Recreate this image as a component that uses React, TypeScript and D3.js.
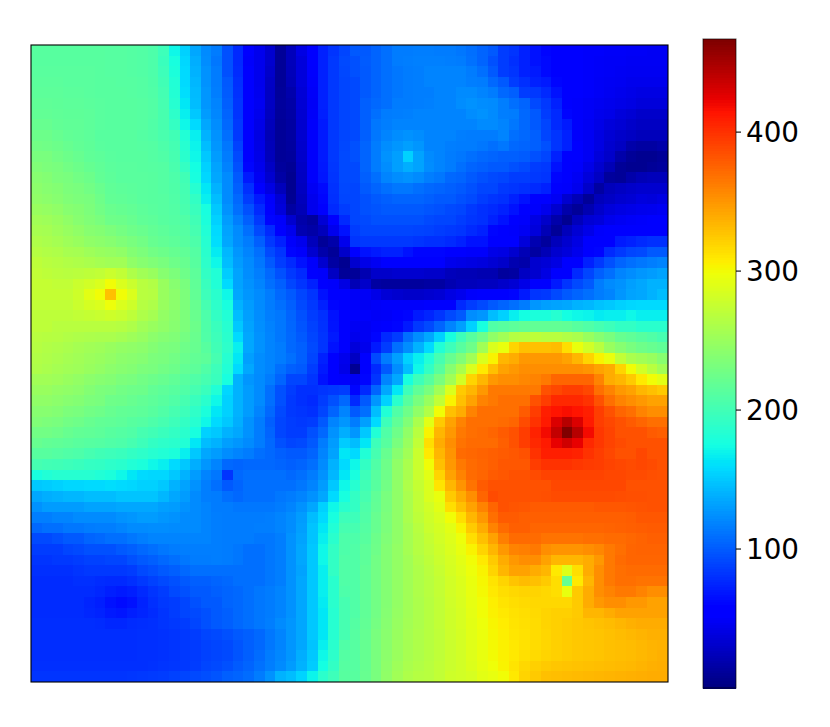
import React from "react";
import * as d3 from "d3";

const leftColumns: number[][] = [
[213,213,213,213,213,213,213,212,212,211,210,207,198,172,154,135,122,115,95,77,52,44,32,10,24,40,52,73,82,90],
[213,213,213,213,213,213,213,212,212,211,210,207,196,177,157,138,123,113,95,77,50,44,32,10,24,37,52,73,84,92],
[214,214,214,214,214,214,213,212,212,211,210,207,198,179,158,140,125,115,95,78,52,44,30,10,23,37,51,73,84,91],
[215,215,215,214,214,214,213,213,212,212,211,208,200,182,158,142,125,115,99,80,52,44,28,10,22,37,50,73,84,90],
[216,216,216,215,215,214,213,213,213,212,211,209,202,183,160,144,127,116,100,81,53,45,27,11,18,35,49,73,84,90],
[218,218,217,216,216,215,214,213,213,213,212,210,203,185,164,145,127,119,102,82,55,46,27,12,16,34,48,73,84,90],
[219,219,218,217,217,216,214,213,213,213,212,210,204,189,168,150,130,120,104,82,53,44,26,11,15,33,49,72,84,90],
[222,222,219,218,218,216,214,213,213,213,212,209,204,193,172,158,135,123,106,84,52,42,24,10,14,32,50,70,84,90],
[225,225,222,219,218,216,213,213,213,213,211,209,205,200,182,168,140,125,109,84,52,40,22,10,14,32,50,70,84,90],
[228,227,225,222,219,217,214,213,213,213,212,211,207,202,185,170,145,127,113,88,52,41,23,10,13,31,50,70,84,91],
[232,232,228,225,222,218,216,214,213,213,213,211,209,203,187,172,150,130,115,92,52,42,24,10,12,30,50,70,84,92],
[236,234,232,228,225,221,218,215,214,214,213,212,211,205,193,175,154,133,118,95,60,44,28,12,9,28,50,69,83,92],
[240,238,234,232,228,225,219,216,214,214,214,213,211,207,200,177,157,135,122,99,70,47,32,15,7,27,50,68,82,92],
[243,240,238,234,232,228,223,218,216,215,214,213,211,208,202,185,164,140,122,102,80,55,40,24,7,26,47,62,81,91],
[245,243,240,236,234,232,226,219,218,216,214,213,212,209,203,192,168,145,122,106,86,70,50,34,8,24,44,60,80,90],
[250,248,245,240,238,234,228,223,221,219,216,214,212,210,205,196,177,150,125,109,95,77,52,37,14,22,44,55,77,86],
[255,253,250,245,240,236,232,226,225,222,218,216,213,211,209,200,179,154,130,116,102,84,60,50,32,17,12,34,55,77],
[258,257,253,249,245,240,238,234,230,226,223,219,216,213,211,203,182,158,133,122,109,92,77,55,44,20,16,24,44,66],
[262,260,257,253,250,245,243,240,236,232,228,222,219,216,213,207,185,160,135,123,115,102,84,73,50,44,24,10,17,44],
[266,264,262,258,257,253,250,248,245,238,234,228,225,221,218,211,187,166,142,127,119,109,92,82,60,50,32,17,10,30],
[271,268,266,264,262,260,257,255,255,245,240,236,232,226,222,213,189,172,145,130,122,113,99,86,77,66,50,32,14,7],
[273,271,269,268,269,271,273,278,273,262,255,250,240,234,226,216,192,182,152,133,123,116,106,95,84,77,55,50,27,10],
[275,275,273,273,278,282,287,300,287,278,268,264,250,240,232,218,196,182,158,133,125,119,109,102,90,82,73,52,50,40],
[275,275,275,275,280,292,300,330,300,287,268,266,250,243,234,219,198,187,172,135,127,122,115,106,99,90,82,66,55,52],
[273,273,273,273,278,284,287,298,287,280,266,262,250,243,234,222,203,189,177,140,130,122,115,109,102,92,84,73,60,55],
[271,271,271,271,273,275,277,280,277,271,262,257,247,241,234,223,207,192,182,145,131,123,116,113,104,95,86,80,66,55],
[271,271,268,268,268,268,268,268,266,262,255,250,245,240,234,225,208,196,185,150,133,124,118,113,105,97,88,81,67,53],
[268,267,266,264,262,261,260,260,257,253,249,243,239,236,230,223,209,198,187,158,135,125,119,113,106,99,90,82,70,52],
[266,264,262,260,257,255,253,250,247,245,243,238,234,232,226,222,213,200,189,168,135,125,119,115,106,102,92,82,66,52],
[264,262,260,257,255,252,250,247,243,241,239,234,232,228,223,219,216,203,185,164,131,123,119,115,109,102,90,73,52,44],
[262,260,257,255,253,250,247,243,240,238,234,232,228,225,219,216,209,198,182,158,135,123,119,109,102,99,86,70,52,42],
[255,255,253,250,247,243,240,238,234,232,228,225,222,218,213,209,203,196,177,140,127,122,115,104,90,90,82,66,52,50],
[250,250,247,245,243,238,234,232,228,226,225,219,216,213,209,203,196,182,157,140,130,122,109,95,86,80,80,82,84,86],
[245,245,243,240,238,234,232,226,225,222,219,216,213,209,203,196,187,172,154,140,130,122,109,95,84,80,77,86,95,106],
[240,240,238,234,232,228,226,222,219,218,216,213,209,203,198,190,179,164,154,140,130,119,106,92,84,82,80,90,104,119],
[236,234,232,228,226,222,219,218,216,213,211,207,203,198,192,185,172,158,150,138,125,115,102,90,86,84,86,99,119,127],
[228,228,226,222,219,218,216,213,211,209,203,200,196,192,187,177,154,150,140,135,125,115,104,90,86,86,95,106,125,138],
[222,219,218,216,214,212,211,209,207,203,198,192,189,187,182,164,145,140,131,127,122,115,106,95,90,92,99,115,130,152],
[213,213,211,209,207,203,200,198,196,192,189,185,182,179,168,150,135,130,123,119,115,109,106,102,99,99,104,119,133,164],
[203,201,200,198,196,193,192,189,187,182,179,172,168,158,150,138,127,119,106,104,106,106,106,104,102,104,109,122,140,158],
[177,182,185,185,185,185,182,179,172,164,158,157,157,150,140,130,119,113,82,106,109,109,109,109,106,109,115,125,142,164],
[150,152,154,157,157,158,158,160,158,157,154,154,150,140,133,125,116,109,99,104,109,109,109,109,109,113,119,130,150,172],
[135,138,140,142,142,145,145,145,148,148,148,148,142,135,130,122,116,115,109,106,109,109,109,113,115,119,125,135,158,177],
[125,130,130,130,130,133,133,133,135,135,135,135,131,130,125,122,119,115,115,113,113,113,113,115,119,125,135,154,172,187],
[116,116,119,119,122,122,122,122,125,127,130,130,127,125,122,122,119,116,115,115,115,115,116,119,123,130,145,158,177,198],
[106,109,109,113,113,115,116,116,119,122,122,123,123,122,122,122,119,116,115,115,115,116,116,119,123,131,148,164,182,203],
[92,92,95,99,99,104,106,109,109,113,116,119,119,119,119,119,119,116,115,115,115,113,113,116,125,133,148,168,187,207],
[86,86,86,90,92,95,95,95,99,102,106,109,113,115,116,116,116,116,115,113,109,109,113,116,125,135,150,172,192,207],
[82,82,84,84,86,88,88,90,90,95,99,102,106,109,113,115,115,116,115,113,109,109,113,116,125,135,150,172,192,209],
[80,80,80,80,82,84,84,84,84,86,92,95,99,102,106,109,109,109,109,109,109,109,113,116,125,133,150,168,192,209],
[78,78,78,78,80,80,78,77,77,80,84,88,92,95,99,102,102,104,106,109,109,109,113,116,125,135,150,168,187,209],
[78,78,78,78,78,78,76,72,70,72,77,82,86,92,95,99,99,102,104,106,109,113,115,119,125,135,150,168,187,207],
[78,78,78,78,78,75,72,66,63,66,74,80,84,86,90,95,99,99,104,106,109,113,115,119,125,135,150,166,187,203],
[78,78,78,78,78,76,74,70,68,72,75,78,82,86,90,92,95,99,102,106,109,113,115,119,125,135,150,164,185,203],
[79,79,79,79,79,79,78,76,76,78,79,80,82,84,86,90,95,99,102,106,109,113,116,122,127,135,150,164,185,203],
[79,79,79,79,79,79,79,79,79,79,80,80,81,82,84,86,90,92,95,99,102,106,113,119,127,135,150,164,185,203],
[79,79,79,79,79,79,79,79,79,79,80,80,81,82,84,85,88,90,92,97,102,106,113,119,127,135,148,168,187,209],
[79,79,79,79,79,79,79,79,79,79,80,80,81,82,84,85,88,90,92,97,102,108,115,120,127,138,150,172,189,211],
[80,80,80,80,80,80,80,80,80,80,80,81,82,83,84,86,90,92,95,100,104,110,116,122,130,140,152,175,192,212],
[82,82,82,82,82,82,82,82,82,83,84,85,86,88,90,92,94,97,102,104,108,115,125,140,145,155,170,188,198,213],
];

const rightColumns: number[][] = [
[99,99,104,109,115,115,116,116,115,115,113,109,104,99,86,82,73,66,60,55,55,52,50,50,49,49,48,48,47,47],
[95,100,104,109,115,116,117,117,117,116,115,110,104,95,86,80,73,66,62,58,55,52,50,49,48,48,47,47,47,47],
[95,99,104,109,113,115,116,119,119,119,119,115,109,99,86,82,73,70,62,58,55,52,50,49,48,47,46,46,46,46],
[92,99,104,109,113,115,116,119,119,119,119,116,115,106,99,86,80,73,70,60,55,52,50,48,47,46,44,44,44,44],
[92,99,104,109,113,115,116,116,119,119,122,122,119,115,106,102,86,84,77,66,55,52,50,48,46,44,42,40,40,40],
[92,102,106,109,115,115,116,117,119,119,123,125,123,122,116,109,104,92,84,73,55,50,48,46,44,42,40,37,37,37],
[92,102,109,115,116,117,119,119,119,119,119,123,125,122,116,115,106,99,86,77,60,50,48,44,42,37,34,30,30,30],
[92,102,113,116,119,119,119,119,119,119,119,119,122,122,119,113,106,99,90,77,70,50,47,42,37,34,30,27,27,27],
[92,102,113,119,123,125,123,119,119,119,116,115,115,115,119,109,106,102,90,82,73,50,47,40,34,30,27,24,24,24],
[95,104,115,123,127,131,127,119,119,116,115,115,113,109,113,106,104,102,95,82,73,52,47,40,32,27,17,14,14,17],
[95,104,115,125,131,154,133,122,119,115,113,109,106,104,102,102,100,95,90,73,55,52,47,37,30,17,10,7,7,10],
[92,104,115,123,131,138,133,123,119,115,109,104,102,99,99,95,92,86,84,66,52,50,42,32,22,10,7,7,10,12],
[92,102,109,119,123,125,122,116,113,106,104,99,95,92,90,86,86,84,82,60,52,47,37,27,12,10,17,22,24,24],
[90,99,104,109,113,113,109,106,104,102,99,95,90,90,84,82,80,77,73,55,50,44,30,14,24,27,30,32,32,32],
[90,95,99,102,104,104,104,102,99,99,95,92,86,82,80,73,66,55,52,47,32,22,10,24,28,32,34,38,37,40],
[90,95,97,99,99,99,99,97,95,92,90,84,80,77,73,66,55,50,44,32,17,10,20,30,37,40,42,44,45,47],
[90,92,95,95,95,95,95,92,90,90,86,82,80,73,66,55,50,40,30,17,7,24,34,37,44,47,49,50,52,55],
[86,90,90,90,90,90,89,88,86,84,82,77,73,60,52,50,47,37,22,10,24,34,42,50,52,52,52,55,55,55],
[82,84,84,84,84,84,82,80,80,77,73,66,66,55,52,52,37,20,12,24,32,40,52,55,55,70,73,77,80,80],
[52,66,70,73,73,66,60,60,60,55,52,50,50,42,40,32,22,14,22,32,37,44,52,60,77,84,90,92,99,99],
[32,42,47,52,52,52,52,52,52,44,42,40,38,34,30,20,17,32,35,40,52,55,73,84,95,104,109,113,116,119],
[10,20,30,30,32,32,32,30,30,24,22,22,20,20,12,14,27,32,40,52,55,77,90,102,109,119,123,127,130,133],
[22,30,14,12,12,12,12,14,14,20,24,24,26,26,30,34,42,52,52,70,82,92,99,115,122,125,131,135,140,140],
[48,48,42,35,32,30,30,32,34,40,44,50,52,52,52,60,70,82,84,92,99,104,109,115,119,127,133,135,140,145],
[50,47,49,50,50,50,50,52,55,55,77,86,92,99,104,109,115,127,131,133,135,140,142,147,150,154,157,158,158,158],
[50,50,48,49,52,60,70,75,82,92,99,123,127,145,154,168,175,179,179,185,175,172,170,166,168,168,172,168,168,168],
[47,47,50,52,60,70,84,92,104,119,131,154,177,209,213,216,219,219,219,219,218,213,209,203,198,192,192,187,187,187],
[44,47,60,77,86,109,123,135,154,177,198,213,226,245,255,266,268,271,268,268,264,260,250,240,232,222,218,213,209,203],
[37,44,70,86,109,123,140,158,182,198,213,226,255,287,296,320,330,330,330,332,315,296,282,268,250,240,232,226,222,218],
[27,55,92,115,131,154,168,182,203,222,236,255,287,305,335,340,350,350,350,350,345,335,320,305,296,273,260,255,250,240],
[8,52,77,99,123,145,172,192,213,240,260,287,310,330,345,350,355,355,355,355,355,355,352,345,340,320,300,282,268,255],
[47,60,82,119,135,177,198,213,232,255,282,320,335,350,355,355,358,360,365,375,375,375,375,360,340,335,325,310,300,292],
[60,77,104,135,164,198,218,232,255,287,325,335,350,365,365,365,365,365,385,390,395,395,390,370,360,350,345,335,330,325],
[77,99,127,154,187,213,232,250,273,305,330,345,360,365,370,370,370,385,395,405,405,405,400,385,370,360,355,350,345,345],
[99,109,145,182,209,226,245,264,300,330,340,360,370,370,370,370,380,395,410,415,418,415,410,395,385,375,370,360,355,355],
[115,131,158,198,218,236,260,292,325,345,360,370,370,370,372,375,388,400,412,430,445,430,412,395,390,385,380,375,370,370],
[127,150,182,209,226,245,268,305,335,350,365,370,372,375,380,385,395,408,420,440,467,445,420,398,392,385,385,385,380,378],
[145,164,198,213,232,250,273,315,340,355,368,372,372,372,378,385,395,405,412,425,435,425,405,398,392,388,385,385,385,385],
[158,182,203,222,240,255,278,310,335,352,372,374,376,378,380,382,385,400,410,410,410,408,400,395,390,385,385,390,385,385],
[172,192,209,226,245,260,278,300,330,350,365,372,375,378,382,382,382,395,400,400,400,398,396,395,392,390,388,390,388,385],
[177,198,213,226,245,260,278,292,320,345,360,372,375,380,382,385,385,388,392,392,392,392,392,392,390,390,388,388,386,385],
[185,200,213,228,245,262,275,287,312,335,352,368,380,385,385,385,385,385,385,390,390,390,390,390,390,390,385,385,385,385],
[192,203,218,232,245,260,273,287,296,325,340,355,375,388,385,385,385,385,386,388,388,388,388,388,388,387,386,386,385,385],
[192,207,219,232,245,260,273,282,292,315,330,345,360,375,385,383,382,380,380,380,380,380,380,382,382,382,383,384,385,385],
[198,209,222,234,245,260,271,280,287,300,315,335,350,370,380,380,378,378,378,378,378,378,378,378,378,378,379,382,382,382],
[203,211,222,234,245,257,268,278,284,292,305,325,340,360,372,378,378,375,375,375,375,375,375,375,376,377,378,379,380,380],
[207,213,225,236,245,257,266,275,282,289,298,315,330,345,362,372,372,372,368,368,368,368,370,370,372,372,374,376,378,378],
[209,216,226,238,247,257,266,273,280,287,295,305,320,335,350,360,362,365,355,352,352,352,355,358,365,370,375,376,376,376],
[209,216,228,238,247,255,264,271,278,285,292,300,310,325,340,350,355,355,345,335,335,335,340,350,365,372,375,375,375,375],
[209,218,228,238,247,255,262,269,276,284,290,298,305,320,335,345,345,340,335,310,290,315,340,355,365,370,372,372,372,372],
[209,218,228,238,247,255,262,268,274,282,288,296,303,312,320,328,332,330,325,315,220,310,335,355,365,370,370,368,368,368],
[209,218,228,238,247,255,262,268,274,282,287,295,302,310,315,318,320,320,318,315,295,325,340,355,360,365,365,360,355,355],
[209,218,228,238,247,255,261,267,273,281,286,294,300,307,312,315,317,318,318,318,318,325,340,350,355,355,350,350,345,345],
[209,218,228,239,248,255,261,267,273,280,285,293,300,306,310,313,315,317,320,322,322,325,335,335,340,345,345,345,345,345],
[211,219,230,240,249,256,261,267,273,280,285,292,298,304,308,312,314,316,320,322,324,326,328,330,332,335,338,340,340,340],
[212,220,232,241,250,257,262,267,272,279,284,291,297,303,307,311,313,316,319,322,324,326,327,328,330,332,334,336,338,338],
[212,221,232,242,251,257,262,267,272,278,283,290,296,302,306,310,313,316,319,322,324,326,327,328,330,331,332,334,336,337],
[212,221,232,243,251,258,262,267,272,278,282,289,295,301,306,310,314,317,320,322,324,326,327,328,330,331,332,334,336,338],
[212,221,232,244,253,260,264,268,273,278,282,288,294,299,305,312,318,322,325,327,328,329,330,331,332,333,334,336,338,339],
[213,222,232,245,255,262,266,268,273,280,282,285,292,295,300,310,320,325,330,331,332,333,334,335,336,337,338,339,340,340],
];

const colorbarTicks = [100, 200, 300, 400];
const valueDomain = [0, 467];

const jetR = d3.scaleLinear([0, 0.35, 0.66, 0.89, 1], [0, 0, 1, 1, 0.5]).clamp(true);
const jetG = d3.scaleLinear([0, 0.125, 0.375, 0.64, 0.91, 1], [0, 0, 1, 1, 0, 0]).clamp(true);
const jetB = d3.scaleLinear([0, 0.11, 0.34, 0.65, 1], [0.5, 1, 1, 0, 0]).clamp(true);
const jet = (t: number) =>
  `rgb(${Math.round(jetR(t) * 255)},${Math.round(jetG(t) * 255)},${Math.round(jetB(t) * 255)})`;

const grid = leftColumns.map((row, i) => [...row, ...rightColumns[i]]);
const n = grid.length;
const plot = { x0: 31, x1: 668, y0: 45, y1: 682 };
const bar = { x0: 703, x1: 736, y0: 39, y1: 688 };

const xPos = d3.scaleLinear([0, n], [plot.x0, plot.x1]);
const yPos = d3.scaleLinear([0, n], [plot.y0, plot.y1]);
const norm = d3.scaleLinear(valueDomain, [0, 1]);
const barY = d3.scaleLinear(valueDomain, [bar.y1, bar.y0]);
const levels = d3.range(256);

export default function App() {
  return (
    <svg
      width={830}
      height={727}
      style={{ position: "absolute", left: 0, top: 0, background: "#fff" }}
      fontFamily="'DejaVu Sans'"
    >
      <g shapeRendering="crispEdges">
        {grid.map((row, r) =>
          row.map((v, c) => (
            <rect
              key={`${r}-${c}`}
              x={Math.round(xPos(c))}
              y={Math.round(yPos(r))}
              width={Math.round(xPos(c + 1)) - Math.round(xPos(c))}
              height={Math.round(yPos(r + 1)) - Math.round(yPos(r))}
              fill={jet(norm(v))}
            />
          ))
        )}
      </g>
      <rect
        x={plot.x0}
        y={plot.y0}
        width={plot.x1 - plot.x0}
        height={plot.y1 - plot.y0}
        fill="none"
        stroke="#000"
        strokeWidth={1.1}
      />
      <g shapeRendering="crispEdges">
        {levels.map((l) => {
          const h = (bar.y1 - bar.y0) / 256;
          return (
            <rect
              key={l}
              x={bar.x0}
              width={bar.x1 - bar.x0}
              y={bar.y1 - (l + 1) * h}
              height={h + 0.6}
              fill={jet(l / 255)}
            />
          );
        })}
      </g>
      <rect
        x={bar.x0}
        y={bar.y0}
        width={bar.x1 - bar.x0}
        height={bar.y1 - bar.y0}
        fill="none"
        stroke="#000"
        strokeOpacity={0.6}
        strokeWidth={1.1}
      />
      {colorbarTicks.map((t) => (
        <g key={t} transform={`translate(${bar.x1},${barY(t)})`}>
          <line x1={0} x2={5} stroke="#000" strokeWidth={1.1} />
          <text x={10} dy="0.36em" fontSize={27.8} fill="#000">
            {t}
          </text>
        </g>
      ))}
    </svg>
  );
}
